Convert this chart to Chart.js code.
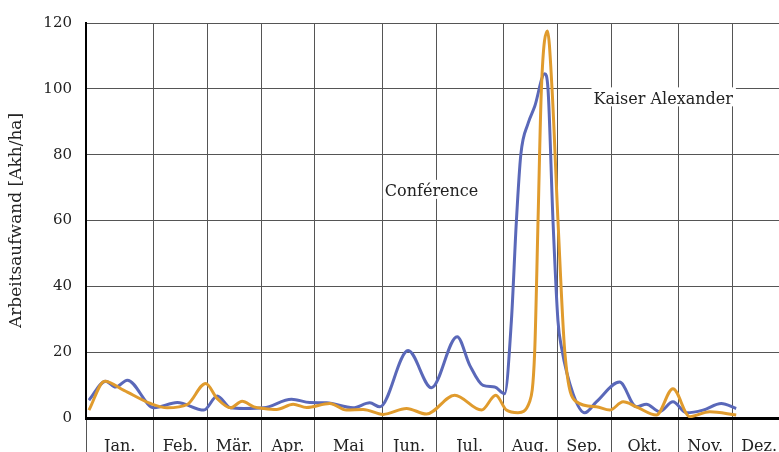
<!DOCTYPE html>
<html>
<head>
<meta charset="utf-8">
<script src="https://cdn.jsdelivr.net/npm/chart.js@4"></script>
<style>
  html, body { margin: 0; padding: 0; background: #fff; overflow: hidden; }
  #wrap { width: 790px; height: 470px; }
</style>
</head>
<body>
<div id="wrap"><canvas id="chart" width="790" height="470"></canvas></div>
<script>
// Wochen (x) und Arbeitsaufwand (y) je Sorte
const monthLabels = ['Jan.', 'Feb.', 'Mär.', 'Apr.', 'Mai', 'Jun.', 'Jul.', 'Aug.', 'Sep.', 'Okt.', 'Nov.', 'Dez.'];
const monthBounds = [0, 5, 9, 13, 17, 22, 26, 31, 35, 39, 44, 48, 52];
const yTicks = [0, 20, 40, 60, 80, 100, 120];

const conferenceWeeks = [0.22, 1.46, 2.2, 3.07, 5.05, 6.78, 8.76, 9.75, 10.74, 11.73, 13.21, 15.27, 16.63, 17.87, 19.84, 21.08, 21.83, 23.93, 25.66, 27.57, 28.51, 29.5, 30.36, 31.1, 31.6, 31.97, 32.3, 32.84, 33.33, 34.08, 34.32, 34.69, 35.06, 35.32, 36.18, 37.05, 37.91, 39.64, 40.88, 41.63, 42.61, 43.6, 44.6, 45.83, 47.19, 48.3];
const conferenceValues = [5.4, 11.2, 9.4, 11.5, 3.1, 4.7, 2.4, 6.7, 3.1, 2.9, 3.1, 5.7, 4.7, 4.6, 3.1, 4.6, 3.4, 20.5, 9.2, 24.7, 16, 9.9, 9.4, 7.4, 29.5, 59.7, 80, 89.5, 94.6, 104.6, 100, 60, 29.5, 21.5, 7.4, 1.6, 4.9, 10.9, 3.4, 4.2, 1.9, 4.9, 1.6, 2.4, 4.4, 2.9];

const kaiserWeeks = [0.22, 1.39, 2.82, 4.8, 6.04, 7.52, 8.89, 9.75, 10.74, 11.6, 12.47, 13.21, 14.16, 15.39, 16.39, 18.11, 19.35, 20.59, 22.07, 23.81, 25.29, 27.39, 29.38, 30.44, 31.23, 32.09, 32.96, 33.33, 33.58, 33.83, 34.28, 34.62, 35.06, 35.57, 36.4, 37.91, 38.9, 39.9, 40.88, 42.37, 43.6, 44.85, 46.33, 48.3];
const kaiserValues = [2.4, 11.2, 8.4, 4.4, 3.1, 4.1, 10.5, 5.9, 3.1, 5.1, 3.4, 2.9, 2.6, 4.2, 3.2, 4.4, 2.4, 2.6, 1.1, 2.9, 1.2, 6.9, 2.4, 6.9, 2.4, 1.6, 5, 20, 60, 100, 117.6, 100, 60, 20, 5, 3.4, 2.4, 4.9, 3.4, 0.9, 8.9, 0.4, 1.9, 0.9];

const SERIF = 'DejaVu Serif';
const GRID = '#555';

const monthCenters = monthLabels.map((m, i) => (monthBounds[i] + monthBounds[i + 1]) / 2);
const toPoints = (xs, ys) => xs.map((x, i) => ({ x, y: ys[i] }));

// Beschriftungen direkt im Diagramm (weisser Hintergrund)
const notes = [
    { text: 'Kaiser Alexander', week: 37.7, value: 96.8 },
    { text: 'Conférence', week: 22.2, value: 68.7 }
];

const notesPlugin = {
    id: 'notes',
    afterDatasetsDraw(chart) {
        const { ctx, scales: { x, y } } = chart;
        ctx.save();
        ctx.font = `16px ${SERIF}`;
        ctx.textBaseline = 'middle';
        ctx.textAlign = 'left';
        notes.forEach(n => {
            const px = x.getPixelForValue(n.week);
            const py = y.getPixelForValue(n.value);
            const w = ctx.measureText(n.text).width;
            ctx.fillStyle = '#fff';
            ctx.fillRect(px - 2, py - 12, w + 5, 19);
            ctx.fillStyle = '#222';
            ctx.fillText(n.text, px, py);
        });
        ctx.restore();
    }
};

new Chart(document.getElementById('chart'), {
    type: 'line',
    data: {
        datasets: [
            {
                label: 'Kaiser Alexander',
                data: toPoints(kaiserWeeks, kaiserValues),
                borderColor: '#e09b2d',
                borderWidth: 3,
                pointRadius: 0,
                cubicInterpolationMode: 'monotone',
                fill: false
            },
            {
                label: 'Conférence',
                data: toPoints(conferenceWeeks, conferenceValues),
                borderColor: '#5a68b9',
                borderWidth: 3,
                pointRadius: 0,
                cubicInterpolationMode: 'monotone',
                fill: false
            }
        ]
    },
    options: {
        responsive: false,
        animation: false,
        devicePixelRatio: 1,
        layout: { padding: { top: 20, right: 4, left: 0, bottom: 0 } },
        plugins: { legend: { display: false }, tooltip: { enabled: false } },
        scales: {
            x: {
                type: 'linear',
                min: 0,
                max: 52,
                afterBuildTicks(s) {
                    s.ticks = [...monthBounds, ...monthCenters].sort((a, b) => a - b).map(v => ({ value: v }));
                },
                afterFit(s) { s.height = 52; },
                ticks: {
                    autoSkip: false,
                    maxRotation: 0,
                    padding: -21,
                    color: '#222',
                    font: { family: SERIF, size: 16 },
                    callback(v) {
                        const i = monthCenters.indexOf(v);
                        return i >= 0 ? monthLabels[i] : '';
                    }
                },
                grid: {
                    color: c => monthBounds.includes(c.tick && c.tick.value) ? GRID : 'rgba(0,0,0,0)',
                    tickLength: 40,
                    lineWidth: 1
                },
                border: { color: '#000', width: 3 }
            },
            y: {
                min: 0,
                max: 120,
                afterBuildTicks(s) { s.ticks = yTicks.map(v => ({ value: v })); },
                afterFit(s) { s.width = 86; },
                ticks: { padding: 14, color: '#222', font: { family: SERIF, size: 15 } },
                grid: { color: GRID, drawTicks: false, lineWidth: 1 },
                border: { color: '#000', width: 2 },
                title: {
                    display: true,
                    text: 'Arbeitsaufwand [Akh/ha]',
                    color: '#222',
                    font: { family: SERIF, size: 17 },
                    padding: { top: 6, bottom: 0 }
                }
            }
        }
    },
    plugins: [notesPlugin]
});
</script>
</body>
</html>
